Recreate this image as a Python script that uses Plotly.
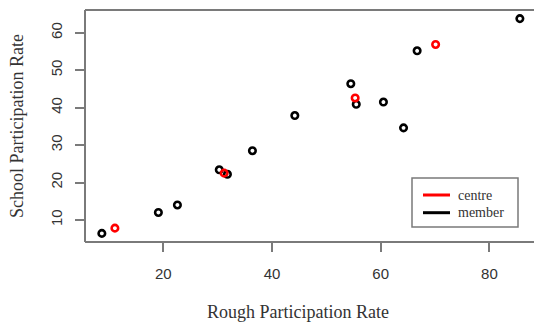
import plotly.graph_objects as go

# Data
member_x = [8.7, 19.1, 22.6, 30.3, 31.8, 36.4, 44.2, 54.5, 55.5, 60.5, 64.2, 66.7, 85.6]
member_y = [6.4, 12.0, 14.0, 23.4, 22.2, 28.5, 37.9, 46.4, 40.9, 41.5, 34.6, 55.2, 63.8]
centre_x = [11.1, 31.2, 55.3, 70.1]
centre_y = [7.8, 22.5, 42.6, 56.9]

x_ticks = [20, 40, 60, 80]
y_ticks = [10, 20, 30, 40, 50, 60]

series_names = ["centre", "member"]
series_colors = {"centre": "#ff0000", "member": "#000000"}

W, H = 534, 324
ML, MR, MT, MB = 85, 0, 10, 82
PW, PH = W - ML - MR, H - MT - MB


def px(xp):
    return (xp - ML) / PW


def py(yp):
    return (H - MB - yp) / PH


fig = go.Figure()

mk = dict(symbol="circle-open", size=6.5, line=dict(width=2.6))
fig.add_trace(go.Scatter(x=member_x, y=member_y, mode="markers", name="member",
                         showlegend=False,
                         marker=dict(color=series_colors["member"], **mk)))
fig.add_trace(go.Scatter(x=centre_x, y=centre_y, mode="markers", name="centre",
                         showlegend=False,
                         marker=dict(color=series_colors["centre"], **mk)))

axis_col = "#7a7a7a"
fig.update_xaxes(range=[5.6, 88.2], tickvals=x_ticks, ticks="outside", ticklen=9,
                 tickwidth=2, tickcolor=axis_col, showline=False, showgrid=False,
                 zeroline=False, tickfont=dict(family="Liberation Sans", size=15, color="#333"),
                 ticklabelstandoff=9)
fig.update_yaxes(range=[4.1, 66.1], tickvals=y_ticks, ticks="outside", ticklen=9,
                 tickwidth=2, tickcolor=axis_col, showline=False, showgrid=False,
                 zeroline=False, tickangle=-90,
                 tickfont=dict(family="Liberation Sans", size=15, color="#333"),
                 ticklabelstandoff=7)

# plot box (left, top, bottom; right edge falls outside the image)
for x0, y0, x1, y1 in [(0, 0, 0, 1), (0, 1, 1, 1), (0, 0, 1, 0)]:
    fig.add_shape(type="line", xref="paper", yref="paper", x0=x0, y0=y0, x1=x1, y1=y1,
                  line=dict(color=axis_col, width=2))

# legend box
fig.add_shape(type="rect", xref="paper", yref="paper",
              x0=px(412), x1=px(518), y0=py(227), y1=py(178),
              line=dict(color=axis_col, width=1.5), fillcolor="white")
for i, name in enumerate(series_names):
    yy = 195 + i * 17.7
    fig.add_shape(type="line", xref="paper", yref="paper",
                  x0=px(423), x1=px(450), y0=py(yy), y1=py(yy),
                  line=dict(color=series_colors[name], width=3))
    fig.add_annotation(text=name, xref="paper", yref="paper", x=px(456), y=py(yy),
                       xanchor="left", yanchor="middle", showarrow=False,
                       font=dict(family="Liberation Serif", size=14, color="#333"))

fig.add_annotation(text="Rough Participation Rate", xref="paper", yref="paper",
                   x=px(298), y=py(311.5),
                   showarrow=False, xanchor="center", yanchor="middle",
                   font=dict(family="Liberation Serif", size=18, color="#333"))
fig.add_annotation(text="School Participation Rate", xref="paper", yref="paper",
                   x=px(17), y=0.5, textangle=-90,
                   showarrow=False, xanchor="center", yanchor="middle",
                   font=dict(family="Liberation Serif", size=18, color="#333"))

fig.update_layout(
    width=W, height=H, margin=dict(l=ML, r=MR, t=MT, b=MB),
    plot_bgcolor="white", paper_bgcolor="white", showlegend=False,
)

fig.write_html("out.html", config={"displayModeBar": False},
               post_script="document.body.style.margin='0';document.body.style.overflow='hidden';")
